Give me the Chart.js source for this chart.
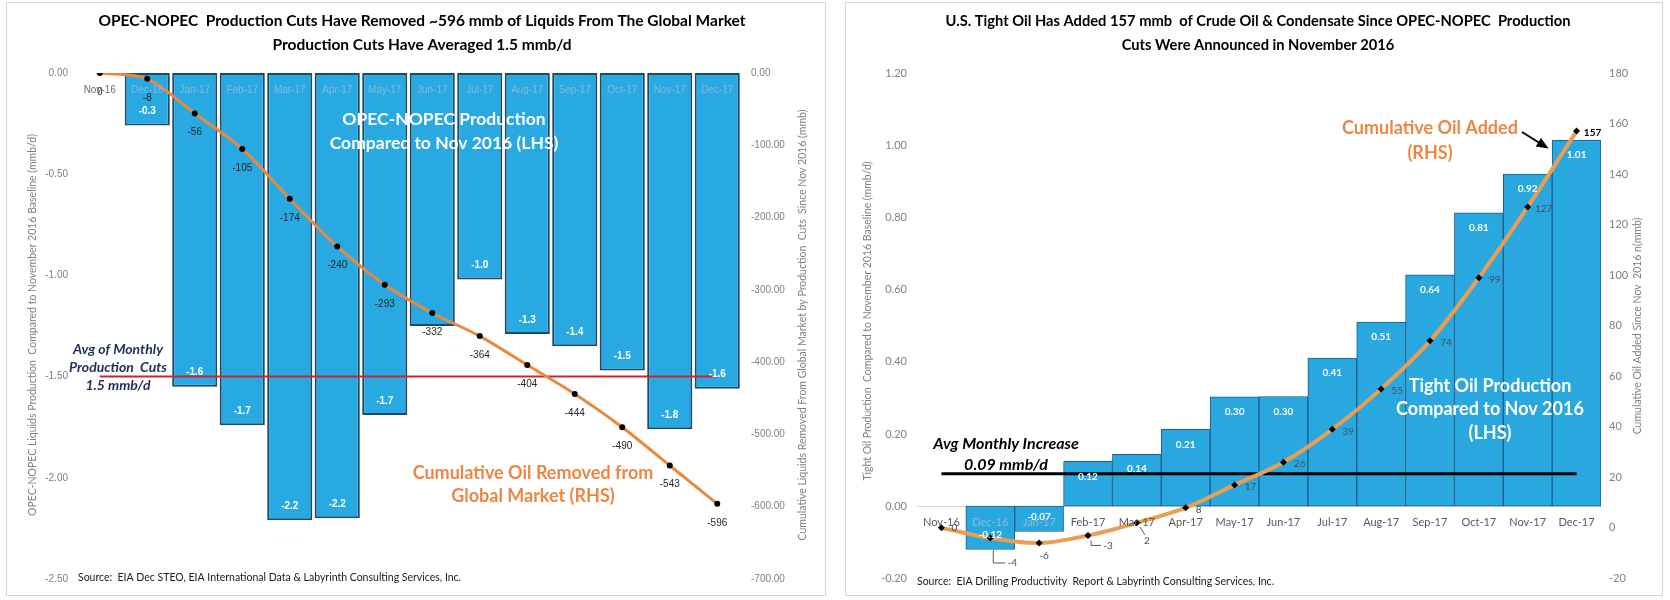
<!DOCTYPE html>
<html><head><meta charset="utf-8">
<script src="https://cdn.jsdelivr.net/npm/chart.js@4.4.1/dist/chart.umd.min.js"></script>
<style>
html,body{margin:0;padding:0;background:#fff;width:1670px;height:600px;overflow:hidden}
.panel{position:absolute;border:1px solid #d6d6d6;background:#fff}
canvas{display:block}
</style></head><body>
<div class="panel" style="left:6px;top:2px;width:818px;height:592px"><canvas id="c1" width="818" height="592"></canvas></div>
<div class="panel" style="left:845px;top:2px;width:816px;height:592px"><canvas id="c2" width="816" height="592"></canvas></div>
<script>
// ---------- DATA ----------
const months = ['Nov-16','Dec-16','Jan-17','Feb-17','Mar-17','Apr-17','May-17','Jun-17','Jul-17','Aug-17','Sep-17','Oct-17','Nov-17','Dec-17'];

// Chart 1: OPEC-NOPEC
const opecChange = [0, -0.26, -1.55, -1.74, -2.21, -2.2, -1.69, -1.25, -1.02, -1.29, -1.35, -1.47, -1.76, -1.56];
const opecCumulative = [0, -8, -56, -105, -174, -240, -293, -332, -364, -404, -444, -490, -543, -596];
const opecAvgCut = [-1.5, -1.5, -1.5, -1.5, -1.5, -1.5, -1.5, -1.5, -1.5, -1.5, -1.5, -1.5, -1.5, -1.5];
const opecLhsTicks = [0, -0.5, -1.0, -1.5, -2.0, -2.5];
const opecRhsTicks = [0, -100, -200, -300, -400, -500, -600, -700];
const opecHiddenBarLabels = ['Jun-17'];

// Chart 2: US tight oil
const tightChange = [0, -0.12, -0.07, 0.124, 0.144, 0.213, 0.303, 0.304, 0.41, 0.51, 0.641, 0.813, 0.92, 1.014];
const tightCumulative = [0, -4, -6, -3, 2, 8, 17, 26, 39, 55, 74, 99, 127, 157];
const tightAvg = [0.09, 0.09, 0.09, 0.09, 0.09, 0.09, 0.09, 0.09, 0.09, 0.09, 0.09, 0.09, 0.09, 0.09];
const tightLhsTicks = [-0.2, 0, 0.2, 0.4, 0.6, 0.8, 1.0, 1.2];
const tightRhsTicks = [-20, 0, 20, 40, 60, 80, 100, 120, 140, 160, 180];

// ---------- HELPERS ----------
function setTicks(arr){ return (scale) => { scale.ticks = arr.map(v => ({value: v})); }; }
function fixWidth(w){ return (scale) => { scale.width = w; }; }

const valueLabelPlugin = {
  id: 'valueLabels',
  afterDatasetsDraw(chart) {
    const ctx = chart.ctx;
    chart.data.datasets.forEach((ds, di) => {
      const cfg = ds.valueLabels; if (!cfg) return;
      const meta = chart.getDatasetMeta(di);
      meta.data.forEach((el, i) => {
        const v = ds.data[i];
        if (cfg.skipZero && v === 0) return;
        if (cfg.skip && cfg.skip.includes(chart.data.labels[i])) return;
        let x, y;
        const o = (cfg.offsets && cfg.offsets[i]) || cfg.offset || {dx:0, dy:0};
        if (ds.type === 'bar') {
          x = el.x;
          y = el.y + (el.y < el.base ? cfg.inset : -cfg.inset);
        } else {
          x = el.x + o.dx; y = el.y + o.dy;
        }
        ctx.save();
        if (o.leader) {
          ctx.strokeStyle = cfg.leaderColor || '#595959';
          ctx.lineWidth = 1;
          ctx.beginPath();
          if (o.leader === 'elbow') {
            ctx.moveTo(el.x + 3, el.y + o.ly);
            ctx.lineTo(el.x + 3, y);
            ctx.lineTo(x - 7, y);
          } else {
            ctx.moveTo(el.x + 3, el.y + 4);
            ctx.lineTo(x - 2, y - 6);
          }
          ctx.stroke();
        }
        const bold = cfg.boldIndex && cfg.boldIndex.includes(i);
        ctx.font = bold ? cfg.boldFont : cfg.font;
        ctx.fillStyle = bold ? cfg.boldColor : cfg.color;
        ctx.textAlign = 'center';
        ctx.textBaseline = 'middle';
        ctx.fillText(cfg.format(v), x, y);
        ctx.restore();
      });
    });
  }
};

const decorPlugin = {
  id: 'decor',
  afterDraw(chart) {
    const d = chart.options.plugins.decor; if (!d) return;
    const ctx = chart.ctx;
    (d.texts || []).forEach(t => {
      ctx.save();
      ctx.font = t.font; ctx.fillStyle = t.color;
      ctx.textAlign = t.align || 'center'; ctx.textBaseline = 'middle';
      if (t.rotate) {
        ctx.translate(t.x, t.y); ctx.rotate(-Math.PI / 2);
        ctx.fillText(t.lines[0], 0, 0);
      } else {
        t.lines.forEach((ln, k) => ctx.fillText(ln, t.x, t.y + k * (t.lh || 0)));
      }
      ctx.restore();
    });
    (d.arrows || []).forEach(a => {
      ctx.save();
      ctx.strokeStyle = a.color; ctx.fillStyle = a.color; ctx.lineWidth = a.width;
      ctx.beginPath(); ctx.moveTo(a.x1, a.y1); ctx.lineTo(a.x2, a.y2); ctx.stroke();
      const ang = Math.atan2(a.y2 - a.y1, a.x2 - a.x1), L = 9, W = 5;
      ctx.beginPath();
      ctx.moveTo(a.x2 + Math.cos(ang) * 3, a.y2 + Math.sin(ang) * 3);
      ctx.lineTo(a.x2 - Math.cos(ang) * L + Math.sin(ang) * W, a.y2 - Math.sin(ang) * L - Math.cos(ang) * W);
      ctx.lineTo(a.x2 - Math.cos(ang) * L - Math.sin(ang) * W, a.y2 - Math.sin(ang) * L + Math.cos(ang) * W);
      ctx.closePath(); ctx.fill();
      ctx.restore();
    });
  }
};

const LATO = 'Lato, "Open Sans", sans-serif';
const ARIAL = '"Liberation Sans", Arial, sans-serif';

// ---------- CHART 1 ----------
new Chart(document.getElementById('c1'), {
  type: 'bar',
  data: {
    labels: months,
    datasets: [
      {
        type: 'line', label: 'Cumulative Oil Removed from Global Market (RHS)',
        data: opecCumulative, yAxisID: 'y2', order: 1,
        borderColor: '#e8893f', borderWidth: 3, tension: 0.3,
        pointRadius: 3, pointBackgroundColor: '#000', pointBorderColor: '#000', pointBorderWidth: 0,
        valueLabels: { format: v => String(v), offset: {dx: 0, dy: 19}, font: '10px ' + ARIAL, color: '#262626' }
      },
      {
        type: 'line', label: 'Avg of Monthly Production Cuts 1.5 mmb/d',
        data: opecAvgCut, yAxisID: 'y', order: 2,
        borderColor: '#d3222a', borderWidth: 2, pointRadius: 0, tension: 0
      },
      {
        type: 'bar', label: 'OPEC-NOPEC Production Compared to Nov 2016 (LHS)',
        data: opecChange, yAxisID: 'y', order: 3,
        backgroundColor: '#29a9e1', borderColor: '#1b4a6a', borderWidth: 2, borderSkipped: false,
        barPercentage: 0.95, categoryPercentage: 1.0,
        valueLabels: { format: v => v.toFixed(1), inset: 14, skipZero: true, skip: opecHiddenBarLabels,
                       font: 'bold 10px ' + ARIAL, color: '#ffffff' }
      }
    ]
  },
  options: {
    responsive: false, animation: false, devicePixelRatio: 1,
    layout: { padding: { top: 70, bottom: 15, left: 0, right: 0 } },
    plugins: {
      legend: { display: false }, tooltip: { enabled: false }, title: { display: false },
      decor: {
        texts: [
          { lines: ['OPEC-NOPEC  Production Cuts Have Removed ~596 mmb of Liquids From The Global Market', 'Production Cuts Have Averaged 1.5 mmb/d'],
            x: 415, y: 18, lh: 24, font: 'bold 15.5px ' + LATO, color: '#000' },
          { lines: ['OPEC-NOPEC Production', 'Compared to Nov 2016 (LHS)'], x: 437, y: 116, lh: 24, font: 'bold 17.5px ' + LATO, color: '#ffffff' },
          { lines: ['Avg of Monthly', 'Production  Cuts', '1.5 mmb/d'], x: 111, y: 346, lh: 18, font: 'italic bold 14px ' + LATO, color: '#1f2d5c' },
          { lines: ['Cumulative Oil Removed from', 'Global Market (RHS)'], x: 526, y: 470, lh: 23, font: 'bold 18px ' + LATO, color: '#ec8644' },
          { lines: ['Source:  EIA Dec STEO, EIA International Data & Labyrinth Consulting Services, Inc.'], x: 71, y: 575, align: 'left', font: '10.5px ' + LATO, color: '#1a1a1a' },
          { lines: ['OPEC-NOPEC Liquids Production  Compared to November 2016 Baseline (mmb/d)'], rotate: true, x: 26, y: 322, font: '10.5px ' + LATO, color: '#808080' },
          { lines: ['Cumulative Liquids Removed From Global Market by Production  Cuts  Since Nov 2016 (mmb)'], rotate: true, x: 796, y: 322, font: '10.5px ' + LATO, color: '#808080' }
        ]
      }
    },
    scales: {
      x: {
        position: { y: 0 }, offset: true,
        grid: { display: false, drawTicks: false }, border: { display: false },
        ticks: { z: 1, autoSkip: false, maxRotation: 0, minRotation: 0, padding: 11,
                 font: { family: ARIAL, size: 10 },
                 color: c => (opecChange[c.index] < 0 ? '#86b8dc' : '#6b6b6b') }
      },
      y: {
        position: 'left', min: -2.5, max: 0,
        afterBuildTicks: setTicks(opecLhsTicks), afterFit: fixWidth(69),
        grid: { display: false, drawTicks: false }, border: { display: false },
        ticks: { padding: 8, font: { family: ARIAL, size: 10 }, color: '#7f7f7f', callback: v => Number(v).toFixed(2) }
      },
      y2: {
        position: 'right', min: -700, max: 0,
        afterBuildTicks: setTicks(opecRhsTicks), afterFit: fixWidth(84),
        grid: { display: false, drawTicks: false }, border: { display: false },
        ticks: { padding: 10, font: { family: ARIAL, size: 10 }, color: '#7f7f7f', callback: v => Number(v).toFixed(2) }
      }
    }
  },
  plugins: [valueLabelPlugin, decorPlugin]
});

// ---------- CHART 2 ----------
new Chart(document.getElementById('c2'), {
  type: 'bar',
  data: {
    labels: months,
    datasets: [
      {
        type: 'line', label: 'Cumulative Oil Added (RHS)',
        data: tightCumulative, yAxisID: 'y2', order: 1,
        borderColor: '#eb9d52', borderWidth: 4, tension: 0.35,
        pointStyle: 'rectRot', pointRadius: 3.5, pointBackgroundColor: '#000', pointBorderColor: '#000', pointBorderWidth: 0,
        valueLabels: {
          format: v => String(v), offset: {dx: 16, dy: 2},
          offsets: { 0: {dx: 13, dy: 0}, 1: {dx: 22, dy: 25, leader: 'elbow', ly: 12}, 2: {dx: 5, dy: 13},
                     3: {dx: 20, dy: 10, leader: 'elbow', ly: 5}, 4: {dx: 10, dy: 18, leader: 'straight'}, 5: {dx: 13, dy: 2} },
          font: '10px ' + LATO, color: '#44505e',
          boldIndex: [13], boldFont: 'bold 10px ' + LATO, boldColor: '#000'
        }
      },
      {
        type: 'line', label: 'Avg Monthly Increase 0.09 mmb/d',
        data: tightAvg, yAxisID: 'y', order: 2,
        borderColor: '#000000', borderWidth: 3, pointRadius: 0, tension: 0
      },
      {
        type: 'bar', label: 'Tight Oil Production Compared to Nov 2016 (LHS)',
        data: tightChange, yAxisID: 'y', order: 3,
        backgroundColor: '#29a8e0', borderColor: '#1d5f8c', borderWidth: 1, borderSkipped: false,
        barPercentage: 1.0, categoryPercentage: 1.0,
        valueLabels: { format: v => v.toFixed(2), inset: 15, skipZero: true, font: 'bold 10px ' + LATO, color: '#ffffff' }
      }
    ]
  },
  options: {
    responsive: false, animation: false, devicePixelRatio: 1,
    layout: { padding: { top: 70, bottom: 14, left: 0, right: 0 } },
    plugins: {
      legend: { display: false }, tooltip: { enabled: false }, title: { display: false },
      decor: {
        texts: [
          { lines: ['U.S. Tight Oil Has Added 157 mmb  of Crude Oil & Condensate Since OPEC-NOPEC  Production', 'Cuts Were Announced in November 2016'],
            x: 412, y: 18, lh: 24, font: 'bold 14.7px ' + LATO, color: '#000' },
          { lines: ['Avg Monthly Increase', '0.09 mmb/d'], x: 160, y: 441, lh: 21, font: 'italic bold 16px ' + LATO, color: '#000' },
          { lines: ['Tight Oil Production', 'Compared to Nov 2016', '(LHS)'], x: 644, y: 383, lh: 23.5, font: 'bold 18px ' + LATO, color: '#ffffff' },
          { lines: ['Cumulative Oil Added', '(RHS)'], x: 584, y: 125, lh: 25, font: 'bold 18px ' + LATO, color: '#ec8644' },
          { lines: ['Source:  EIA Drilling Productivity  Report & Labyrinth Consulting Services, Inc.'], x: 71, y: 579, align: 'left', font: '10.5px ' + LATO, color: '#1a1a1a' },
          { lines: ['Tight Oil Production  Compared to November 2016 Baseline (mmb/d)'], rotate: true, x: 22, y: 318, font: '10.5px ' + LATO, color: '#808080' },
          { lines: ['Cumulative Oil Added Since Nov  2016 n(mmb)'], rotate: true, x: 792, y: 323, font: '10.5px ' + LATO, color: '#808080' }
        ],
        arrows: [ { x1: 676, y1: 129, x2: 700, y2: 144, color: '#000', width: 2 } ]
      }
    },
    scales: {
      x: {
        position: { y: 0 }, offset: true,
        grid: { display: false, drawTicks: false }, border: { display: true, color: '#d9d9d9', width: 1 },
        ticks: { z: 1, autoSkip: false, maxRotation: 0, minRotation: 0, padding: 10,
                 font: { family: LATO, size: 11 },
                 color: c => (tightChange[c.index] < 0 ? '#8cbad8' : '#595959') }
      },
      y: {
        position: 'left', min: -0.2, max: 1.2,
        afterBuildTicks: setTicks(tightLhsTicks), afterFit: fixWidth(71),
        grid: { display: false, drawTicks: false }, border: { display: false },
        ticks: { padding: 10, font: { family: LATO, size: 11 }, color: '#808080', callback: v => Number(v).toFixed(2) }
      },
      y2: {
        position: 'right', min: -20, max: 180,
        afterBuildTicks: setTicks(tightRhsTicks), afterFit: fixWidth(61),
        grid: { display: false, drawTicks: false }, border: { display: false },
        ticks: { padding: 8, font: { family: LATO, size: 11 }, color: '#808080', callback: v => String(Math.round(v)) }
      }
    }
  },
  plugins: [valueLabelPlugin, decorPlugin]
});
</script>
</body></html>
